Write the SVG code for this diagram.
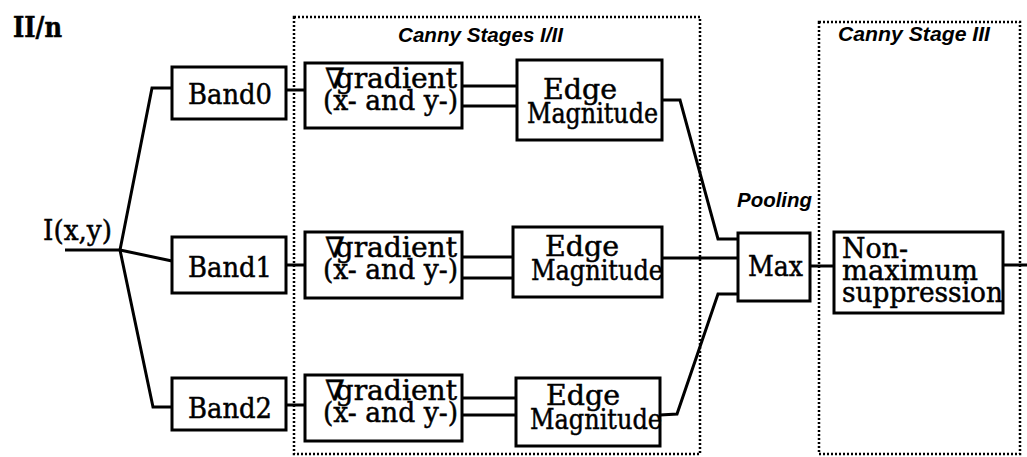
<svg xmlns="http://www.w3.org/2000/svg" width="1027" height="457" viewBox="0 0 1027 457">
<style>
.box{fill:#fff;stroke:#000;stroke-width:3}
.dot{fill:none;stroke:#000;stroke-width:2.5;stroke-dasharray:2 2}
.ln{fill:none;stroke:#000;stroke-width:3;stroke-linejoin:miter}
.t{font-family:"DejaVu Serif","Liberation Serif",serif;font-size:28px;fill:#000;stroke:#000;stroke-width:0.5}
.lbl{font-family:"Liberation Sans",Arial,sans-serif;font-style:italic;font-weight:bold;font-size:21px;fill:#000}
</style>
<rect width="1027" height="457" fill="#fff"/>
<text x="13" y="37" class="t" font-weight="bold" font-size="28" textLength="49" lengthAdjust="spacingAndGlyphs">II/n</text>

<g id="stage12">
<rect class="dot" x="294" y="17" width="406" height="437"/>
<text class="lbl" x="398" y="42" textLength="165" lengthAdjust="spacingAndGlyphs">Canny Stages I/II</text>
</g>
<g id="stage3">
<rect class="dot" x="819" y="22" width="201" height="432"/>
<text class="lbl" x="838" y="41" textLength="152" lengthAdjust="spacingAndGlyphs">Canny Stage III</text>
</g>

<g id="connectors">
<polyline class="ln" points="65,250 120,250"/>
<polyline class="ln" points="120,250 152,88 172,88"/>
<polyline class="ln" points="120,250 172,261"/>
<polyline class="ln" points="120,250 153,407 172,407"/>
<line class="ln" x1="286" y1="90" x2="305" y2="90"/>
<line class="ln" x1="286" y1="265" x2="305" y2="265"/>
<line class="ln" x1="286" y1="405" x2="305" y2="405"/>
<line class="ln" x1="462" y1="86" x2="517" y2="86"/>
<line class="ln" x1="462" y1="106" x2="517" y2="106"/>
<line class="ln" x1="462" y1="257" x2="513" y2="257"/>
<line class="ln" x1="462" y1="278" x2="513" y2="278"/>
<line class="ln" x1="462" y1="398" x2="516" y2="398"/>
<line class="ln" x1="462" y1="415" x2="516" y2="415"/>
<polyline class="ln" points="662,100 680,100 718,239 738,239"/>
<line class="ln" x1="662" y1="258" x2="738" y2="258"/>
<polyline class="ln" points="660,415 677,414 718,294 738,294"/>
<line class="ln" x1="810" y1="266" x2="834" y2="266"/>
<line class="ln" x1="1003" y1="265" x2="1027" y2="265"/>
</g>

<text id="input" class="t" x="43" y="240" textLength="69" lengthAdjust="spacingAndGlyphs">I(x,y)</text>

<g id="band0">
<rect class="box" x="172" y="67" width="114" height="52"/>
<text class="t" x="188" y="104" textLength="84" lengthAdjust="spacingAndGlyphs">Band0</text>
</g>
<g id="band1">
<rect class="box" x="172" y="237" width="114" height="56"/>
<text class="t" x="188" y="277" textLength="84" lengthAdjust="spacingAndGlyphs">Band1</text>
</g>
<g id="band2">
<rect class="box" x="172" y="378" width="114" height="52"/>
<text class="t" x="188" y="418" textLength="84" lengthAdjust="spacingAndGlyphs">Band2</text>
</g>

<g id="grad0">
<rect class="box" x="305" y="63" width="157" height="65"/>
<text class="t" x="325" y="88" textLength="132" lengthAdjust="spacingAndGlyphs">∇<tspan dx="-9">gradient</tspan></text>
<text class="t" x="323" y="110" textLength="135" lengthAdjust="spacingAndGlyphs">(x- and y-)</text>
</g>
<g id="grad1">
<rect class="box" x="305" y="232" width="157" height="66"/>
<text class="t" x="325" y="257" textLength="132" lengthAdjust="spacingAndGlyphs">∇<tspan dx="-9">gradient</tspan></text>
<text class="t" x="323" y="279" textLength="135" lengthAdjust="spacingAndGlyphs">(x- and y-)</text>
</g>
<g id="grad2">
<rect class="box" x="305" y="375" width="157" height="66"/>
<text class="t" x="325" y="400" textLength="132" lengthAdjust="spacingAndGlyphs">∇<tspan dx="-9">gradient</tspan></text>
<text class="t" x="323" y="422" textLength="135" lengthAdjust="spacingAndGlyphs">(x- and y-)</text>
</g>

<g id="edge0">
<rect class="box" x="517" y="60" width="145" height="80"/>
<text class="t" x="543" y="99" textLength="74" lengthAdjust="spacingAndGlyphs">Edge</text>
<text class="t" x="527" y="123" textLength="131" lengthAdjust="spacingAndGlyphs">Magnitude</text>
</g>
<g id="edge1">
<rect class="box" x="513" y="227" width="149" height="70"/>
<text class="t" x="545" y="256" textLength="74" lengthAdjust="spacingAndGlyphs">Edge</text>
<text class="t" x="531" y="280" textLength="132" lengthAdjust="spacingAndGlyphs">Magnitude</text>
</g>
<g id="edge2">
<rect class="box" x="516" y="378" width="144" height="68"/>
<text class="t" x="546" y="405" textLength="74" lengthAdjust="spacingAndGlyphs">Edge</text>
<text class="t" x="530" y="429" textLength="132" lengthAdjust="spacingAndGlyphs">Magnitude</text>
</g>

<g id="max">
<text class="lbl" x="737" y="207" textLength="75" lengthAdjust="spacingAndGlyphs">Pooling</text>
<rect class="box" x="738" y="233" width="72" height="68"/>
<text class="t" x="748" y="276" textLength="55" lengthAdjust="spacingAndGlyphs">Max</text>
</g>

<g id="nms">
<rect class="box" x="834" y="232" width="169" height="81"/>
<text class="t" x="842" y="258" textLength="66" lengthAdjust="spacingAndGlyphs">Non-</text>
<text class="t" x="842" y="280" textLength="136" lengthAdjust="spacingAndGlyphs">maximum</text>
<text class="t" x="842" y="302" textLength="161" lengthAdjust="spacingAndGlyphs">suppression</text>
</g>
</svg>
